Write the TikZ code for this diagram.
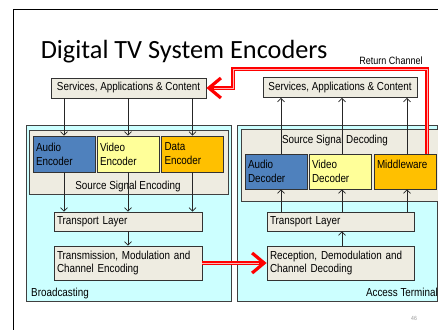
\documentclass[tikz,border=0pt]{standalone}
\usepackage{fontspec}
\setmainfont{Liberation Sans}[FakeStretch=0.85]
\newfontfamily\titlefont{Carlito}
\usetikzlibrary{arrows.meta}
\definecolor{zonecyan}{RGB}{204,255,255}
\definecolor{panelbeige}{RGB}{238,236,225}
\definecolor{audioblue}{RGB}{79,129,189}
\definecolor{videoyellow}{RGB}{255,255,153}
\definecolor{datagold}{RGB}{255,192,0}
\tikzset{
  zone/.style={draw=black!75, fill=zonecyan, line width=0.8pt, inner sep=0pt},
  panel/.style={draw=black!75, fill=panelbeige, line width=0.8pt, inner sep=0pt},
  box/.style={draw=black!80, fill=panelbeige, line width=0.8pt, inner sep=3pt,
    font=\fontsize{11.6pt}{13.9pt}\selectfont},
  coder/.style={box, align=left, text width=56pt, minimum height=36pt},
  layer/.style={box, align=left, text width=142pt},
  tag/.style={font=\fontsize{11.6pt}{13.9pt}\selectfont, inner sep=0pt},
  flow/.style={draw=black!85, line width=0.7pt, -{Straight Barb[length=3.5pt,width=7pt]}},
  retline/.style={draw=red, line width=3.2pt, -{Straight Barb[length=12pt,width=20pt]}},
  retcore/.style={draw=red!30, line width=1pt}
}
\begin{document}
\begin{tikzpicture}[x=1pt,y=-1pt]
\useasboundingbox (0,0) rectangle (438,329);
\clip (0,0) rectangle (438,329);
\fill[white] (0,0) rectangle (438,329);
\draw[line width=0.8pt] (13.3,9.3) rectangle (460,345);
\node[anchor=base west, inner sep=0pt, font=\titlefont\fontsize{26.3pt}{31pt}\selectfont] (title) at (40.6,58) {Digital TV System Encoders};

% broadcasting side
\node[zone, minimum width=205pt, minimum height=176pt] (bcast) at (128.5,213) {};
\node[panel, minimum width=199pt, minimum height=64pt] (encbox) at (128.5,162) {};
\node[box, minimum width=155pt, minimum height=20pt] (srvL) at (128.5,88) {Services, Applications \& Content};
\node[coder, fill=audioblue] (audioE) at (64,154) {Audio\\Encoder};
\node[coder, fill=videoyellow] (videoE) at (128,154) {Video\\Encoder};
\node[coder, fill=datagold] (dataE) at (192.5,154) {Data\\Encoder};
\node[tag, anchor=base] (encTag) at (128,189) {Source Signal Encoding};
\node[layer, minimum height=19pt] (trL) at (128,221.5) {Transport Layer};
\node[layer, minimum height=34pt] (txL) at (128,263) {Transmission, Modulation and\\Channel Encoding};
\node[tag, anchor=base west] (bcTag) at (31,296) {Broadcasting};

% access terminal side
\node[zone, minimum width=200.5pt, minimum height=176pt] (access) at (337.25,213) {};
\node[panel, minimum width=204pt, minimum height=72pt] (decbox) at (343,165) {};
\node[box, minimum width=154pt, minimum height=20pt] (srvR) at (340,87.5) {Services, Applications \& Content};
\node[tag, anchor=base] (decTag) at (335,143) {Source Signal Decoding};
\node[coder, fill=audioblue, minimum height=35pt] (audioD) at (276,171.5) {Audio\\Decoder};
\node[coder, fill=videoyellow, minimum height=35pt] (videoD) at (340,171.5) {Video\\Decoder};
\node[coder, fill=datagold, minimum height=35pt] (mw) at (405,171.5) {Middleware\\~};
\node[layer, text width=141pt, minimum height=19pt] (trR) at (340.5,221.5) {Transport Layer};
\node[layer, text width=141pt, minimum height=34pt] (rxR) at (340.5,263) {Reception, Demodulation and\\Channel Decoding};
\node[tag, anchor=base east] (atTag) at (438,296) {Access Terminal};
\node[inner sep=0pt, text=black!40, font=\fontsize{6pt}{7pt}\selectfont] (pageNo) at (414,318) {46};

% arrows
\foreach \n in {audioE, videoE, dataE} {
  \draw[flow] (\n.north |- srvL.south) -- (\n.north);
  \draw[flow] (\n.south) -- (\n.south |- trL.north);
}
\draw[flow] (trL.south) -- (txL.north);
\foreach \n/\dx in {audioD/5, videoD/2, mw/2} {
  \draw[flow] ([xshift=\dx pt]\n.north) -- ([xshift=\dx pt]\n.north |- srvR.south);
  \draw[flow] ([xshift=\dx pt]\n.south |- trR.north) -- ([xshift=\dx pt]\n.south);
}
\draw[flow] ([xshift=1.5pt]rxR.north) -- ([xshift=1.5pt]trR.south);

% return channel
\coordinate (rcA) at (427,69);
\coordinate (rcB) at (233,88);
\draw[retline] (mw.north -| rcA) -- (rcA) -- (rcA -| rcB) -- (rcB) -- (srvL.east);
\draw[retcore] (mw.north -| rcA) -- (rcA) -- (rcA -| rcB) -- (rcB) -- ([xshift=8pt]srvL.east);
\node[tag, anchor=base, font=\fontsize{10.6pt}{12pt}\selectfont] (rcTag) at (391,64) {Return Channel};
\draw[retline] (txL.east) -- (rxR.west);
\draw[retcore] (txL.east) -- ([xshift=-8pt]rxR.west);
\end{tikzpicture}
\end{document}
